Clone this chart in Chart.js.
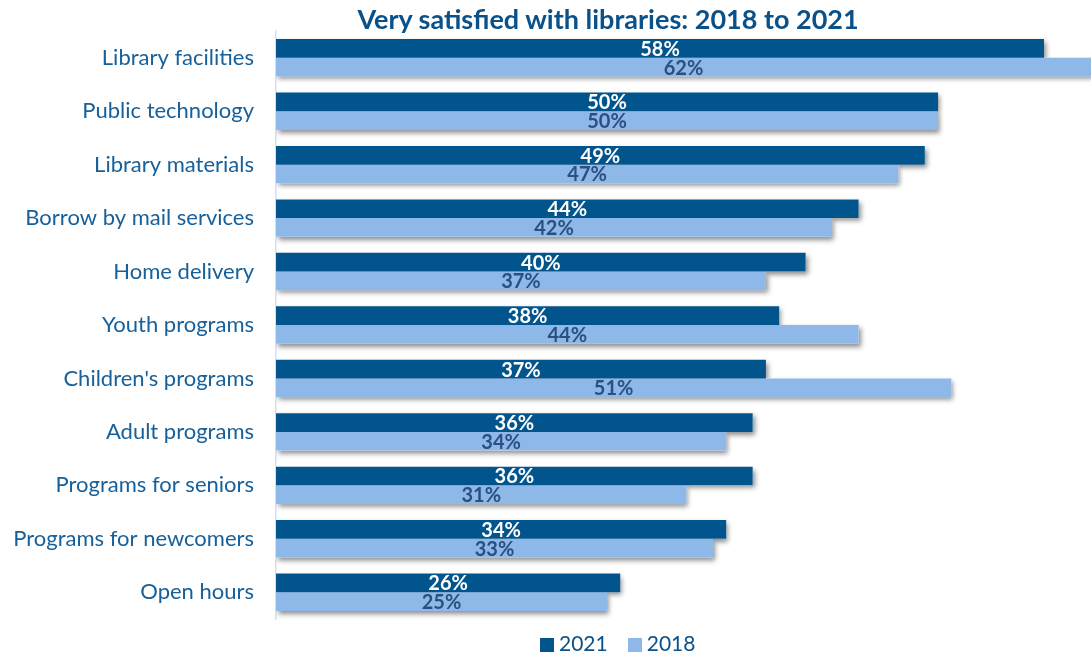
<!DOCTYPE html>
<html>
<head>
<meta charset="utf-8">
<script src="https://cdn.jsdelivr.net/npm/chart.js@4/dist/chart.umd.min.js"></script>
<style>
  html, body { margin: 0; padding: 0; background: #ffffff; }
  #wrap { position: relative; width: 1091px; height: 655px; overflow: hidden; }
  #title { position: absolute; top: 2px; left: 608px; transform: translateX(-50%); white-space: nowrap;
    font-family: Lato, "Open Sans", sans-serif; font-weight: bold; font-size: 27px; color: #0b5189; }
  #legend { position: absolute; top: 630px; left: 540px; white-space: nowrap;
    font-family: Lato, "Open Sans", sans-serif; font-size: 21px; color: #0b5189; line-height: 26px; }
  #legend span.sw { display: inline-block; width: 14px; height: 14px; vertical-align: -1px; margin-right: 5px; }
  #legend span.item { margin-right: 20px; }
</style>
</head>
<body>
<div id="wrap">
  <canvas id="c" width="1091" height="655"></canvas>
  <div id="title">Very satisfied with libraries: 2018 to 2021</div>
  <div id="legend"></div>
</div>
<script>
const categories = ["Library facilities", "Public technology", "Library materials", "Borrow by mail services",
  "Home delivery", "Youth programs", "Children's programs", "Adult programs", "Programs for seniors",
  "Programs for newcomers", "Open hours"];
const seriesNames = ["2021", "2018"];
const values2021 = [58, 50, 49, 44, 40, 38, 37, 36, 36, 34, 26];
const values2018 = [62, 50, 47, 42, 37, 44, 51, 34, 31, 33, 25];
const colors = ["#02558c", "#8db8e8"];
const labelColors = ["#ffffff", "#2b4f80"];

const legendEl = document.getElementById('legend');
seriesNames.forEach((n, i) => {
  const it = document.createElement('span');
  it.className = 'item';
  it.innerHTML = '<span class="sw" style="background:' + colors[i] + '"></span>' + n;
  legendEl.appendChild(it);
});

const shadowPlugin = {
  id: 'barShadow',
  beforeDatasetsDraw(chart) {
    const ctx = chart.ctx, area = chart.chartArea;
    ctx.save();
    ctx.beginPath();
    ctx.rect(area.left, area.top, area.right - area.left, area.bottom - area.top + 10);
    ctx.clip();
    chart.data.datasets.forEach((ds, di) => {
      chart.getDatasetMeta(di).data.forEach(el => {
        const p = el.getProps(['x', 'y', 'base', 'height'], true);
        const x0 = Math.min(p.base, p.x), x1 = Math.min(Math.max(p.base, p.x), area.right);
        ctx.shadowColor = 'rgba(0,0,0,0.45)';
        ctx.shadowBlur = 5;
        ctx.shadowOffsetX = 2;
        ctx.shadowOffsetY = 3;
        ctx.fillStyle = '#ffffff';
        ctx.fillRect(x0, p.y - p.height / 2, x1 - x0, p.height);
      });
    });
    ctx.restore();
  }
};

const labelPlugin = {
  id: 'barLabels',
  afterDatasetsDraw(chart) {
    const ctx = chart.ctx, area = chart.chartArea;
    ctx.save();
    ctx.font = 'bold 20px Lato, "Open Sans", sans-serif';
    ctx.textAlign = 'center';
    ctx.textBaseline = 'middle';
    chart.data.datasets.forEach((ds, di) => {
      ctx.fillStyle = labelColors[di];
      chart.getDatasetMeta(di).data.forEach((el, i) => {
        const p = el.getProps(['x', 'y', 'base'], true);
        const cx = (p.base + Math.min(p.x, area.right)) / 2;
        ctx.fillText(ds.data[i] + '%', cx, p.y + 1);
      });
    });
    ctx.restore();
  }
};

new Chart(document.getElementById('c'), {
  type: 'bar',
  data: {
    labels: categories,
    datasets: [
      { label: seriesNames[0], data: values2021, backgroundColor: colors[0], borderWidth: 0 },
      { label: seriesNames[1], data: values2018, backgroundColor: colors[1], borderWidth: 0 }
    ]
  },
  options: {
    indexAxis: 'y',
    responsive: false,
    animation: false,
    events: [],
    layout: { padding: { top: 31, bottom: 36, left: 0, right: 0 } },
    datasets: { bar: { categoryPercentage: 0.7, barPercentage: 1.0 } },
    plugins: { legend: { display: false }, title: { display: false }, tooltip: { enabled: false } },
    scales: {
      x: { display: false, min: 0, max: 61.55 },
      y: {
        grid: { display: false, drawTicks: false },
        border: { display: true, color: '#d3e0f0', width: 1.5 },
        ticks: { color: '#17609a', padding: 22, font: { family: 'Lato, "Open Sans", sans-serif', size: 22 } },
        afterFit(scale) { scale.width = 276; scale.paddingTop = 0; scale.paddingBottom = 0; }
      }
    }
  },
  plugins: [shadowPlugin, labelPlugin]
});
</script>
</body>
</html>
